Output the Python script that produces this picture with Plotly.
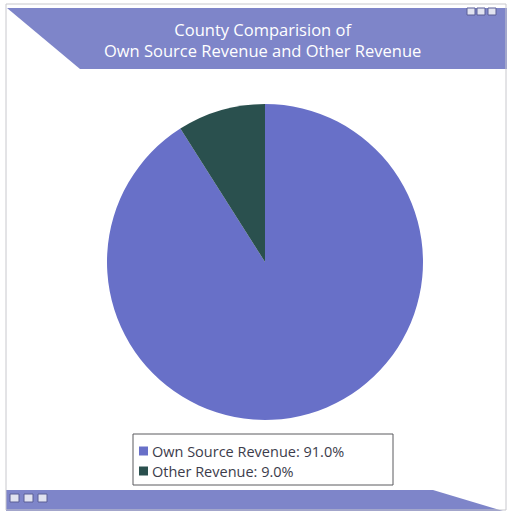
import plotly.graph_objects as go

W, H = 507, 511

title_lines = ["County Comparision of", "Own Source Revenue and Other Revenue"]
labels = ["Own Source Revenue", "Other Revenue"]
shares = [91.0, 9.0]
colors = ["rgb(104,112,200)", "rgb(42,80,78)"]
banner = "rgb(126,133,201)"


def px(x, y):
    # pixel -> paper coords
    return x / W, 1 - y / H


def path(points):
    pts = [px(x, y) for x, y in points]
    return "M " + " L ".join(f"{x:.4f},{y:.4f}" for x, y in pts) + " Z"


def box(x0, y0, x1, y1, **kw):
    a, b = px(x0, y0)
    c, d = px(x1, y1)
    return dict(type="rect", xref="paper", yref="paper", x0=a, y0=d, x1=c, y1=b, **kw)


legend_text = [f"{l}: {v:.1f}%" for l, v in zip(labels, shares)]

pie = go.Pie(
    labels=labels,
    values=shares,
    sort=False,
    direction="clockwise",
    rotation=0,
    marker=dict(colors=colors, line=dict(width=0)),
    textinfo="none",
    hovertext=legend_text,
    hoverinfo="text",
    domain=dict(x=[107 / W, 423 / W], y=[1 - 420 / H, 1 - 104 / H]),
)

fig = go.Figure(pie)

shapes = [
    # outer frame
    box(6, 4, 506, 510, line=dict(color="rgb(200,200,205)", width=1), fillcolor="rgba(0,0,0,0)"),
    # header banner
    dict(type="path", xref="paper", yref="paper",
         path=path([(7, 8), (507, 8), (507, 69), (80, 69)]),
         fillcolor=banner, line=dict(width=0), layer="below"),
    # footer banner
    dict(type="path", xref="paper", yref="paper",
         path=path([(6, 490), (433, 490), (503, 511), (6, 511)]),
         fillcolor=banner, line=dict(width=0), layer="below"),
    # legend box
    box(133, 434, 393, 485, line=dict(color="rgb(90,90,95)", width=1), fillcolor="white", layer="below"),
]
for x in (467, 477, 488):
    shapes.append(box(x, 8, x + 8, 15, fillcolor="rgb(225,227,240)",
                      line=dict(color="rgb(90,95,150)", width=1)))
for x in (10, 24, 38):
    shapes.append(box(x, 494, x + 9, 502, fillcolor="rgb(225,227,240)",
                      line=dict(color="rgb(90,95,150)", width=1)))

annotations = [
    dict(text="<br>".join(title_lines), x=px(262, 0)[0], y=px(0, 40)[1],
         xref="paper", yref="paper", xanchor="center", yanchor="middle",
         showarrow=False, font=dict(size=16.5, color="white"), align="center"),
]

# legend rows built from the data
for i, (txt, col) in enumerate(zip(legend_text, colors)):
    yc = 451 + i * 20
    shapes.append(box(139, yc - 4.5, 148, yc + 4.5, fillcolor=col, line=dict(width=0)))
    annotations.append(dict(text=txt, x=px(150, 0)[0], y=px(0, yc)[1],
                            xref="paper", yref="paper", xanchor="left", yanchor="middle",
                            showarrow=False, font=dict(size=14.5, color="rgb(60,60,75)")))

fig.update_layout(
    width=W,
    height=H,
    margin=dict(l=0, r=0, t=0, b=0),
    paper_bgcolor="white",
    font=dict(family="Open Sans, sans-serif"),
    shapes=shapes,
    annotations=annotations,
    showlegend=False,
)

fig.write_html("out.html", config={"displayModeBar": False},
               post_script="document.body.style.margin='0';")
